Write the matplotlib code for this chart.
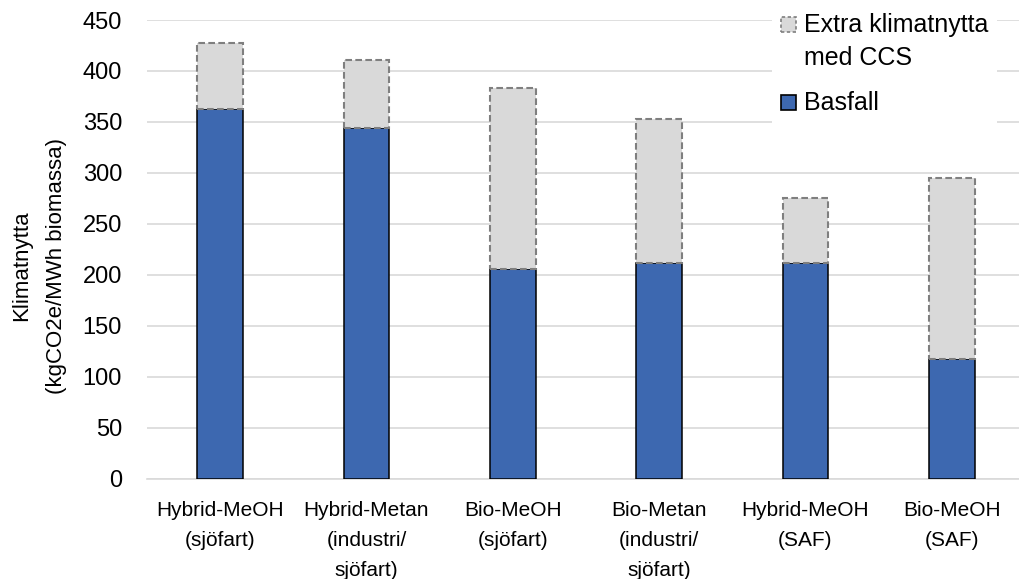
import matplotlib
matplotlib.use("Agg")
import matplotlib.pyplot as plt
from matplotlib.patches import Rectangle

categories = [
    "Hybrid-MeOH\n(sjöfart)",
    "Hybrid-Metan\n(industri/\nsjöfart)",
    "Bio-MeOH\n(sjöfart)",
    "Bio-Metan\n(industri/\nsjöfart)",
    "Hybrid-MeOH\n(SAF)",
    "Bio-MeOH\n(SAF)",
]
basfall = [363, 344, 206, 212, 212, 117]
extra_ccs = [64, 67, 177, 141, 63, 178]
yticks = [0, 50, 100, 150, 200, 250, 300, 350, 400, 450]
legend_labels = ["Extra klimatnytta", "med CCS", "Basfall"]
ylabel_lines = ["Klimatnytta", "(kgCO2e/MWh biomassa)"]

blue = "#3D68B0"
grey = "#D9D9D9"
dash_edge = "#7F7F7F"
FONT = "Liberation Sans"

W, H = 1020, 579
fig = plt.figure(figsize=(W / 100, H / 100), dpi=100)
ax = fig.add_axes([147 / W, 100.3 / H, 878 / W, 458.7 / H])


def fx(px):
    return px / W


def fy(py):
    return 1 - py / H


x = list(range(len(categories)))
w = 0.314
ax.bar(x, basfall, width=w, color=blue, edgecolor="black", linewidth=1.1, zorder=3)
ax.bar(x, extra_ccs, bottom=basfall, width=w, color=grey, edgecolor=dash_edge,
       linewidth=1.5, linestyle=(0, (3.2, 1.6)), zorder=3)

ax.set_xlim(-0.5, len(categories) - 0.5)
ax.set_ylim(0, 450)
ax.set_yticks(yticks)
ax.set_yticklabels([str(v) for v in yticks], fontsize=17, family=FONT)
ax.tick_params(axis="y", length=0, pad=18)
ax.tick_params(axis="x", length=0, pad=16)
ax.set_xticks(x)
ax.set_xticklabels(categories, fontsize=15, family=FONT, linespacing=1.74)
ax.grid(axis="y", color="#D9D9D9", linewidth=1.2, zorder=0)
for s in ["top", "right", "left"]:
    ax.spines[s].set_visible(False)
ax.spines["bottom"].set_color("#D9D9D9")
ax.spines["bottom"].set_linewidth(1.2)

# y-axis title, two centred lines
fig.text(fx(22), fy(266), ylabel_lines[0], rotation=90, ha="center", va="center",
         fontsize=16, family=FONT)
fig.text(fx(57), fy(266), ylabel_lines[1], rotation=90, ha="center", va="center",
         fontsize=16, family=FONT)

# legend: white panel, swatches and labels
fig.add_artist(Rectangle((fx(772), fy(126)), fx(997) - fx(772), fy(0) - fy(126),
                         transform=fig.transFigure, facecolor="white",
                         edgecolor="none", zorder=4))
fig.add_artist(Rectangle((fx(781), fy(31.5)), fx(15), 15 / H,
                         transform=fig.transFigure, facecolor=grey, edgecolor=dash_edge,
                         linewidth=1.2, linestyle=(0, (2, 1.5)), zorder=5))
fig.add_artist(Rectangle((fx(781), fy(109.5)), fx(15), 15 / H,
                         transform=fig.transFigure, facecolor=blue, edgecolor="black",
                         linewidth=1.2, zorder=5))
for label, base in zip(legend_labels, [32, 65, 110]):
    fig.text(fx(804), fy(base), label, ha="left", va="baseline", fontsize=18,
             family=FONT, zorder=6)

fig.savefig("out.png", dpi=100)
